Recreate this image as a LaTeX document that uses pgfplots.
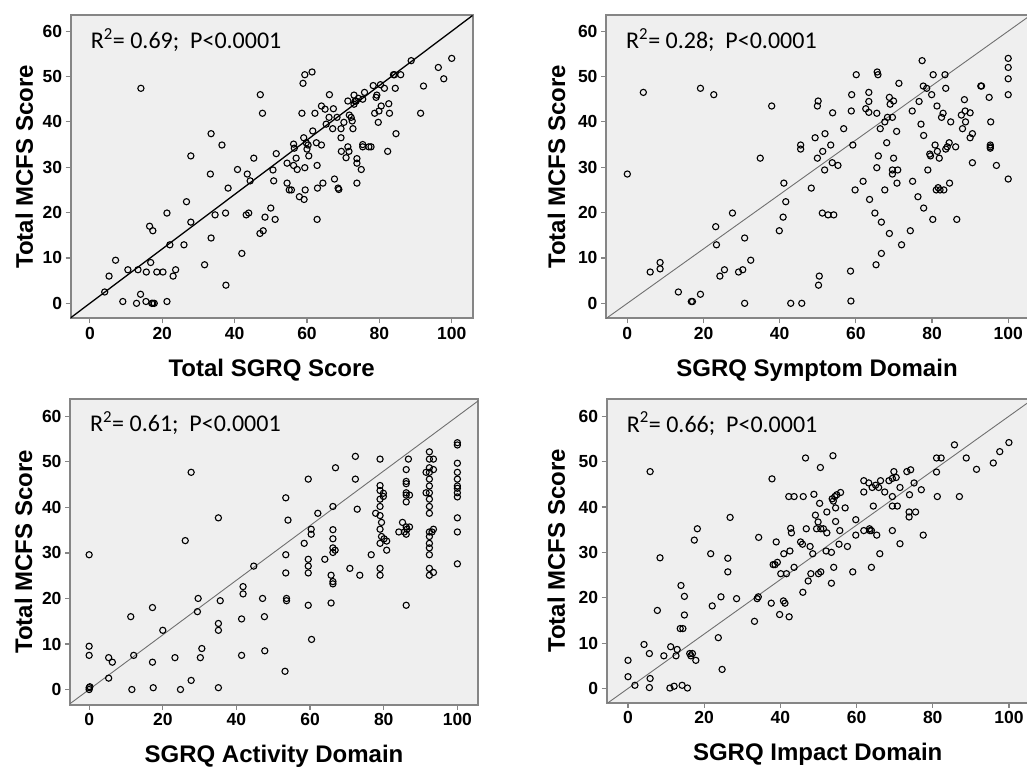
\documentclass[border=0pt]{standalone}
\usepackage{pgfplots}
\pgfplotsset{compat=1.18}
\usepackage{fontspec}
\setmainfont{Liberation Sans}
\newfontfamily\calib{Carlito}
\definecolor{panelbg}{HTML}{EFEFEF}
\definecolor{framegray}{HTML}{858585}
\definecolor{refgray}{HTML}{707070}

\pgfplotsset{
  panel/.style={
    scale only axis,
    axis background/.style={fill=panelbg},
    axis line style={framegray, line width=1.6pt},
    xmin=-5.3, xmax=105.8, ymin=-3.3, ymax=63.5,
    xtick={0,20,...,100}, ytick={0,10,...,60},
    xtick pos=bottom, ytick pos=left,
    tick align=outside, major tick length=5pt,
    tick style={framegray, line width=1.2pt},
    ticklabel style={font=\fontsize{17.5}{17.5}\selectfont\bfseries},
    /pgf/number format/assume math mode=true,
    label style={font=\fontsize{24}{24}\selectfont\bfseries},
    xlabel style={at={(axis description cs:0.5,0)}, anchor=base, yshift=-58pt},
    ylabel={Total MCFS Score},
    clip=true,
  },
  pts/.style={only marks, mark=o, mark size=3.1pt, mark options={black, line width=1.1pt}},
}

\newcommand{\rtext}[1]{\node[anchor=base west, font=\calib\fontsize{24}{24}\selectfont, inner sep=0pt]
  at (rel axis cs:0,1) [xshift=20pt, yshift=-33pt] {R\textsuperscript{2}= #1;\ \ P<0.0001};}

\begin{document}
\begin{tikzpicture}
\path[use as bounding box] (0pt,0pt) rectangle (1027pt,767pt);

% ---- top left: total SGRQ
\begin{axis}[panel, at={(70.7pt,448.7pt)}, anchor=south west, width=402pt, height=303pt,
  xlabel={Total SGRQ Score},
  ylabel style={at={(axis description cs:-0.094,0.5)}, anchor=base}]
\addplot[black, line width=1.3pt] coordinates {(-10,-6) (110,66)};
\addplot[pts] coordinates {
(100,54.0) (96.3,52.0) (97.8,49.5) (92.2,47.9) (91.4,41.9) (88.8,53.5) (85.9,50.4)
(84.2,50.4) (83.9,50.4) (84.4,47.4) (84.6,37.4) (82.6,44.0) (82.8,41.9) (82.3,33.5)
(81.4,47.4) (80.3,48.2) (80.5,43.5) (79.9,42.4) (79.3,45.9) (79.1,45.4) (78.7,41.9)
(78.3,48.0) (79.7,39.9) (77.7,34.5) (77.1,34.5) (75.4,34.5) (75.4,35.0) (75.9,46.5)
(75.4,45.0) (74.2,45.2) (73.3,44.6) (73.0,43.9) (73.0,45.9) (73.6,44.6) (73.8,31.9)
(73.8,30.9) (75.0,29.5) (73.8,26.5) (71.3,44.6) (71.7,41.5) (72.2,41.0) (72.5,40.2)
(72.7,38.5) (71.3,34.5) (71.6,33.5) (70.8,32.1) (70.2,39.9) (69.4,38.5) (69.4,36.5)
(69.5,33.5) (68.3,41.0) (67.3,42.9) (67.1,38.5) (66.2,46.0) (66.1,41.0) (65.3,39.5)
(64.0,43.5) (65.0,42.8) (64.0,34.9) (62.6,35.4) (62.2,41.9) (61.6,38.0) (61.4,51.0)
(59.4,50.4) (58.9,48.5) (58.6,41.9) (59.1,36.5) (59.8,35.4) (60.3,34.9) (60.0,34.0)
(60.5,32.5) (59.4,29.9) (62.8,30.4) (67.6,27.4) (64.4,26.5) (62.9,25.4) (68.6,25.4)
(68.8,25.1) (62.8,18.5) (56.3,35.1) (56.5,34.2) (57.0,32.0) (56.3,30.4) (57.3,29.5)
(54.5,30.9) (54.5,26.5) (55.1,25.0) (55.7,25.0) (57.9,23.5) (59.2,22.9) (59.5,25.0)
(51.5,33.0) (50.6,29.4) (50.8,27.0) (51.2,18.5) (50.0,21.0) (48.4,19.0) (47.9,16.0)
(47.0,15.4) (47.7,41.9) (47.1,46.0) (45.3,32.0) (44.3,27.0) (43.5,28.5) (43.2,19.5)
(43.9,19.9) (42.0,11.0) (40.8,29.5) (38.2,25.4) (37.5,19.9) (36.5,34.9) (34.6,19.5)
(33.5,37.4) (33.3,28.5) (33.5,14.4) (31.7,8.5) (37.6,4.0) (27.9,32.5) (27.9,17.9)
(26.7,22.4) (26.0,12.9) (22.1,12.9) (21.3,19.9) (23.7,7.4) (23.0,6.0) (20.2,6.9)
(18.5,6.9) (21.3,0.4) (17.4,0) (17.8,0) (17.1,0) (15.5,0.4) (14.0,2.0) (12.9,0)
(9.1,0.4) (16.8,9.0) (15.6,6.9) (16.5,17.0) (17.4,16.0) (13.3,7.4) (10.5,7.4)
(7.1,9.5) (5.3,6.0) (4.1,2.5) (14.1,47.4)
};
\rtext{0.69}
\end{axis}

% ---- top right: symptom
\begin{axis}[panel, at={(606pt,448.7pt)}, anchor=south west, width=422pt, height=303pt,
  xmin=-5.6, xmax=105.2,
  xlabel={SGRQ Symptom Domain},
  ylabel style={at={(axis description cs:-0.097,0.5)}, anchor=base}]
\addplot[refgray, line width=0.9pt] coordinates {(-10,-6) (110,66)};
\addplot[pts] coordinates {
(0,28.5) (4.2,46.5) (6.0,6.9) (8.6,9.0) (8.6,7.6) (13.4,2.5) (17.1,0.4) (16.8,0.4)
(19.2,2.0) (19.2,47.4) (22.7,46.0) (23.2,16.9) (23.4,12.9) (24.3,6.0) (25.5,7.4)
(27.6,19.9) (29.2,6.9) (30.3,7.4) (30.8,14.4) (30.8,0) (32.4,9.5) (34.9,32.0)
(37.9,43.5) (39.9,16.0) (40.9,19.0) (41.1,26.5) (41.6,22.4) (42.9,0) (45.5,34.9)
(45.5,34.0) (45.8,0) (48.3,25.4) (49.3,36.5) (50.1,44.6) (49.9,43.5) (49.9,32.0)
(50.4,6.0) (50.2,4.0) (51.3,33.5) (51.8,29.4) (51.9,37.4) (51.2,19.9) (52.7,19.5)
(54.2,19.5) (53.4,34.9) (53.9,42.0) (53.8,31.0) (55.3,30.4) (56.8,38.5) (58.6,7.1)
(58.7,0.5) (58.9,46.0) (58.8,42.4) (59.2,34.9) (59.8,25.0) (60.1,50.4) (61.9,26.9)
(62.6,42.9) (63.4,46.5) (63.4,44.5) (63.4,42.1) (63.6,22.9) (65.0,19.9) (65.5,29.9)
(65.5,41.9) (65.6,51.0) (65.8,50.4) (65.9,32.5) (66.4,38.5) (66.7,17.9) (66.7,11.0)
(65.3,8.5) (67.6,25.0) (67.6,40.0) (68.1,35.4) (68.3,41.0) (68.8,15.4) (68.8,45.4)
(69.0,43.9) (69.6,41.0) (69.6,28.5) (69.6,29.4) (69.9,44.6) (69.9,32.0) (70.7,37.9)
(70.8,26.5) (71.0,29.4) (71.3,48.5) (72.0,12.9) (74.3,16.0) (74.8,42.4) (74.9,26.9)
(76.3,23.5) (76.6,44.5) (77.1,39.5) (77.4,53.5) (77.7,47.9) (77.8,37.0) (77.8,21.0)
(78.6,47.4) (78.9,29.4) (79.4,32.9) (79.6,32.5) (79.9,46.0) (80.2,18.5) (80.3,50.4)
(80.8,34.9) (81.1,25.0) (81.6,25.5) (82.1,25.0) (81.3,43.5) (81.4,33.5) (81.9,32.0)
(82.5,41.0) (82.9,41.9) (83.1,25.0) (83.4,50.4) (83.6,34.0) (84.0,34.5) (83.6,47.4)
(84.5,35.4) (84.9,40.0) (84.6,26.5) (86.2,34.5) (86.5,18.5) (87.7,41.5) (88.0,38.5)
(88.5,44.9) (88.7,42.4) (88.8,40.0) (90.0,42.0) (90.0,36.5) (90.6,37.4) (90.6,31.0)
(92.8,47.9) (93.0,47.9) (95.0,45.4) (95.4,40.0) (95.3,34.9) (95.3,34.5) (95.3,34.2)
(96.9,30.4) (100,54.0) (100,52.0) (100,49.5) (100,46.0) (100,27.4)
};
\rtext{0.28}
\end{axis}

% ---- bottom left: activity
\begin{axis}[panel, at={(70pt,62pt)}, anchor=south west, width=408pt, height=306pt,
  xmin=-5.2, xmax=105.6, ymin=-3.4, ymax=63.8,
  xlabel={SGRQ Activity Domain},
  ylabel style={at={(axis description cs:-0.093,0.5)}, anchor=base}]
\addplot[refgray, line width=0.9pt] coordinates {(-10,-6) (110,66)};
\addplot[pts] coordinates {
(0,0) (0,0.4) (0.2,0.6) (0,7.5) (0,9.5) (0,29.6) (5.3,2.5) (5.3,7.0) (6.3,6.0)
(11.3,16.0) (11.6,0) (12.1,7.5) (17.2,18.0) (17.2,6.0) (17.4,0.4) (20.0,13.0)
(23.3,7.0) (24.8,0) (26.1,32.7) (27.7,2.0) (27.7,47.7) (29.4,17.1) (29.6,20.0)
(30.2,7.0) (30.6,9.0) (35.1,37.7) (35.1,14.5) (35.1,13.0) (35.1,0.4) (35.6,19.5)
(41.8,22.6) (41.8,21.0) (41.4,15.5) (41.4,7.5) (44.7,27.1) (47.1,20.0) (47.6,16.0)
(47.7,8.5) (53.2,4.0) (53.4,42.1) (53.4,29.6) (53.4,25.6) (53.6,20.0) (53.6,19.5)
(54.0,37.2) (58.4,32.1) (59.5,46.2) (59.5,28.6) (59.5,27.1) (59.5,25.6) (59.5,18.5)
(60.3,35.2) (60.3,34.1) (60.4,11.0) (62.1,38.7) (64.0,28.6) (65.7,19.0) (66.2,35.1)
(66.2,33.1) (66.2,31.1) (66.2,30.1) (66.8,30.6) (66.2,40.2) (65.7,25.1) (66.2,23.7)
(66.2,23.2) (66.9,48.7) (72.3,51.2) (72.3,46.2) (72.8,39.6) (70.8,26.6) (73.5,25.1)
(76.6,29.6) (77.8,38.7) (79.0,50.6) (79.0,44.8) (79.0,43.7) (79.0,41.8) (79.0,40.2)
(79.0,38.2) (79.4,36.7) (79.0,35.2) (79.4,33.6) (79.0,32.1) (79.9,43.1) (79.9,42.4)
(79.0,26.6) (79.0,25.1) (80.1,33.1) (80.8,32.6) (80.8,30.6) (84.1,34.6) (85.1,36.7)
(85.6,34.6) (86.3,35.2) (86.1,35.7) (86.1,34.1) (87.0,35.7) (86.1,48.3) (86.1,45.7)
(86.1,45.2) (86.1,43.2) (86.1,42.7) (86.1,41.2) (86.7,50.6) (87.0,42.7) (86.1,18.5)
(92.4,52.2) (92.4,50.6) (92.4,48.7) (92.4,47.7) (92.4,46.2) (92.4,44.7) (92.4,43.2)
(92.4,41.8) (92.4,40.2) (92.4,38.7) (92.4,34.6) (92.4,33.6) (92.4,32.1) (92.4,31.1)
(92.4,29.6) (92.4,26.6) (92.4,25.1) (91.5,47.7) (91.5,43.2) (93.5,50.6) (93.5,48.3)
(93.5,35.2) (93.5,25.7) (93.1,34.6) (100,54.2) (100,53.7) (100,49.7) (100,47.7)
(100,46.2) (100,44.7) (100,44.2) (100,43.2) (100,42.3) (100,37.7) (100,34.6) (100,27.6)
};
\rtext{0.61}
\end{axis}

% ---- bottom right: impact
\begin{axis}[panel, at={(606.7pt,64pt)}, anchor=south west, width=422pt, height=304pt,
  xmin=-5.6, xmax=105.2, ymin=-3.2, ymax=63.8,
  xlabel={SGRQ Impact Domain},
  ylabel style={at={(axis description cs:-0.099,0.5)}, anchor=base}]
\addplot[refgray, line width=0.9pt] coordinates {(-10,-6) (110,66)};
\addplot[pts] coordinates {
(0,6.2) (0,2.6) (1.8,0.7) (4.2,9.7) (5.6,7.7) (5.8,2.2) (5.6,0.2) (5.8,47.8)
(7.7,17.2) (8.4,28.8) (9.4,7.2) (11.2,9.2) (12.1,0.5) (11.0,0.1) (12.6,7.2) (12.9,8.6)
(13.9,22.7) (14.2,0.7) (15.6,0.1) (13.7,13.2) (14.4,13.2) (14.8,20.3) (14.8,16.2)
(16.2,7.7) (16.5,7.2) (16.9,7.7) (17.8,6.2) (17.4,32.7) (18.2,35.2) (21.7,29.7)
(22.1,18.2) (23.7,11.2) (24.4,20.2) (24.7,4.2) (26.2,28.7) (26.2,25.7) (26.8,37.7)
(28.5,19.8) (33.2,14.8) (33.9,19.8) (34.2,20.2) (34.3,33.3) (37.6,18.8) (37.8,46.2)
(38.1,27.3) (38.6,27.3) (39.2,27.8) (38.9,32.3) (39.8,16.3) (40.1,25.3) (40.8,19.3)
(41.2,18.8) (40.9,29.7) (41.6,25.3) (42.3,15.8) (42.2,42.3) (43.6,42.3) (46.0,42.3)
(42.5,30.3) (42.7,35.3) (42.9,34.3) (43.6,26.7) (45.3,32.3) (45.8,31.8) (45.9,21.2)
(46.6,50.8) (46.8,35.2) (47.3,23.7) (47.8,31.3) (48.0,25.3) (48.5,29.7) (48.8,42.8)
(49.2,38.2) (49.5,35.2) (49.9,36.7) (50.6,35.2) (50.0,25.3) (50.6,25.7) (50.3,40.8)
(50.5,48.7) (51.3,35.2) (52.2,34.3) (52.0,30.3) (52.2,38.9) (53.4,30.0) (53.4,23.2)
(53.8,51.3) (53.6,41.8) (53.9,41.3) (54.3,42.3) (54.8,42.7) (55.8,43.2) (54.5,39.8)
(54.5,36.8) (54.0,26.7) (55.4,31.8) (55.6,34.8) (57.0,39.8) (57.6,31.3) (59.0,25.7)
(59.8,37.2) (59.8,33.8) (61.9,45.8) (61.9,43.3) (61.9,34.8) (63.2,45.3) (64.1,44.3)
(65.0,44.8) (65.8,44.3) (66.3,45.8) (67.4,43.3) (68.5,45.8) (69.4,46.3) (69.8,47.8)
(70.4,46.5) (63.4,35.2) (63.5,34.8) (63.9,34.8) (63.9,26.7) (64.4,40.2) (65.3,33.8)
(66.1,29.7) (69.4,42.3) (69.4,40.2) (69.4,34.8) (70.7,40.2) (71.4,44.3) (71.4,31.9)
(73.2,47.8) (74.2,48.2) (73.9,42.7) (73.8,38.9) (73.8,37.8) (75.5,38.9) (75.1,45.3)
(77.0,43.8) (77.5,33.8) (81.0,50.8) (82.2,50.8) (81.0,47.7) (81.2,42.3) (85.7,53.7)
(87.0,42.3) (88.8,50.8) (91.5,48.3) (95.9,49.7) (97.6,52.2) (100,54.2)
};
\rtext{0.66}
\end{axis}
\end{tikzpicture}
\end{document}
